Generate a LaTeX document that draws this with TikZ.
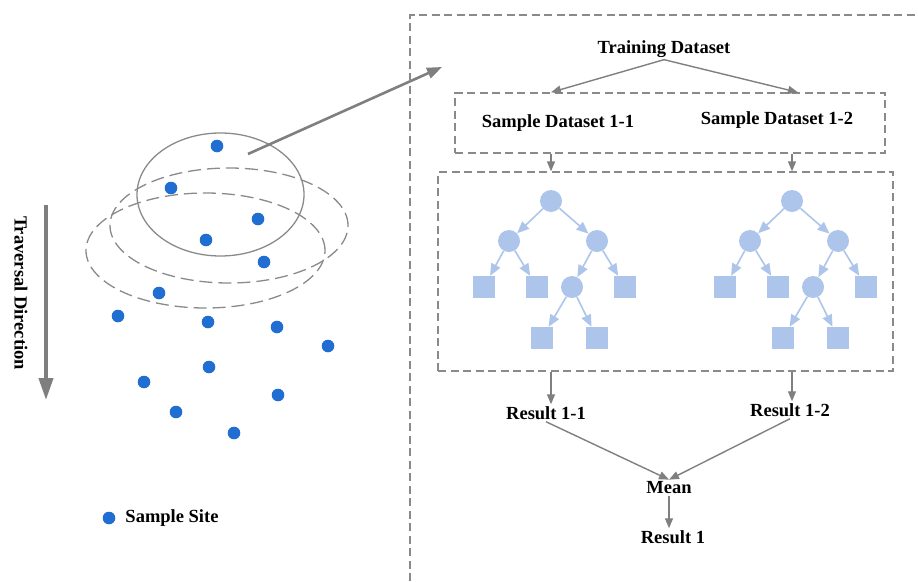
\documentclass[tikz,border=0pt]{standalone}
\usepackage{fontspec}
\setmainfont{Liberation Serif}
\usepackage{tikz}
\usetikzlibrary{arrows.meta,positioning,shapes.geometric}
\definecolor{site}{HTML}{216ED2}
\definecolor{treeblue}{HTML}{AEC5EB}
\definecolor{arrgray}{HTML}{7F7F7F}
\definecolor{dashgray}{HTML}{8A8A8A}

\begin{document}
\begin{tikzpicture}[x=1pt,y=-1pt,
          every node/.style={font=\fontsize{18.5}{20}\selectfont\bfseries,inner sep=2pt},
          dbox/.style={draw=dashgray,line width=1.3pt,dash pattern=on 8pt off 4.5pt,
                       inner sep=0pt},
          ring/.style={ellipse,draw=dashgray,line width=1.3pt,inner sep=0pt,
                       dash pattern=on 13pt off 6pt},
          arr/.style={-{Triangle[length=10pt,width=8pt]},draw=arrgray,line width=1.4pt},
          tarr/.style={-{Triangle[length=12pt,width=10pt]},draw=treeblue,line width=1.6pt},
          split/.style={circle,fill=treeblue,minimum size=22pt,inner sep=0pt},
          leaf/.style={rectangle,fill=treeblue,minimum size=22pt,inner sep=0pt},
      ]
        \useasboundingbox (0,0) rectangle (918,581);

        % sample sites and search windows
        \foreach \p in {(217,146),(171,188),(258,219),(206,240),(264,262),(159,293),
                        (118,316),(208,322),(277,327),(328,346),(209,367),(144,382),
                        (278,395),(176,412),(234,433)}
          \fill[site] \p circle (6.3pt);
        \node[ellipse,draw=dashgray,line width=1.3pt,inner sep=0pt,
              minimum width=167pt,minimum height=123pt] (win) at (220.5,194.5) {};
        \node[ring,minimum width=238pt,minimum height=115pt] (ring1) at (229,225.5) {};
        \node[ring,minimum width=239pt,minimum height=115pt] (ring2) at (205.5,250.5) {};

        \node[rotate=-90] (trav) at (21,293) {Traversal Direction};
        \coordinate (travtop) at (46,205);
        \coordinate (travbot) at (46,400);
        \draw[-{Triangle[length=22pt,width=14pt]},draw=arrgray,line width=4pt]
          (travtop) -- (travbot);

        \fill[site] (109,518) circle (6.3pt);
        \node (legend) at (172,518) {Sample Site};

        % link to the forest
        \coordinate (pick) at (248,154);
        \coordinate (frame) at (442,67);
        \draw[-{Triangle[length=15pt,width=11pt]},draw=arrgray,line width=2.6pt]
          (pick) -- (frame);
        \draw[draw=dashgray,line width=1.3pt,dash pattern=on 8pt off 4.5pt]
          (410,581) -- (410,15) -- (918,15);

        % random forest
        \node (train) at (664,49) {Training Dataset};
        \node[dbox,minimum width=430pt,minimum height=60pt] (sbox) at (670,123) {};
        \node (s1) at (558,123) {Sample Dataset 1-1};
        \node (s2) at (777,120) {Sample Dataset 1-2};
        \node[dbox,minimum width=455pt,minimum height=199pt] (tbox) at (665.5,271.5) {};

        \foreach \t/\dx in {a/0,b/241}{
          \begin{scope}[xshift=\dx]
            \node[split] (\t-root) at (551,201) {};
            \node[split] (\t-l) at (509,241) {};
            \node[split] (\t-r) at (597,241) {};
            \node[leaf] (\t-ll) at (484,287) {};
            \node[leaf] (\t-lr) at (537,287) {};
            \node[split] (\t-rl) at (572,287) {};
            \node[leaf] (\t-rr) at (625,287) {};
            \node[leaf] (\t-rll) at (542,338) {};
            \node[leaf] (\t-rlr) at (597,338) {};
          \end{scope}
          \draw[tarr] (\t-root) -- (\t-l);
          \draw[tarr] (\t-root) -- (\t-r);
          \draw[tarr] (\t-l) -- (\t-ll);
          \draw[tarr] (\t-l) -- (\t-lr);
          \draw[tarr] (\t-r) -- (\t-rl);
          \draw[tarr] (\t-r) -- (\t-rr);
          \draw[tarr] (\t-rl) -- (\t-rll);
          \draw[tarr] (\t-rl) -- (\t-rlr);
        }

        \node (res1) at (546,413) {Result 1-1};
        \node (res2) at (790,410) {Result 1-2};
        \node (mean) at (669,488) {Mean};
        \node (res) at (673,537) {Result 1};

        \draw[arr] (train.south) -- (sbox.north -| a-root);
        \draw[arr] (train.south) -- ([xshift=6pt]sbox.north -| b-root);
        \draw[arr] (sbox.south -| a-root) -- (tbox.north -| a-root);
        \draw[arr] (sbox.south -| b-root) -- (tbox.north -| b-root);
        \draw[arr] (tbox.south -| a-root) -- (a-root |- res1.north);
        \draw[arr] (tbox.south -| b-root) -- (b-root |- res2.north);
        \draw[arr] (res1.south) -- (mean.north);
        \draw[arr] (res2.south) -- (mean.north);
        \draw[arr] (mean.south) -- (mean.south |- res.north);
      \end{tikzpicture}
\end{document}
